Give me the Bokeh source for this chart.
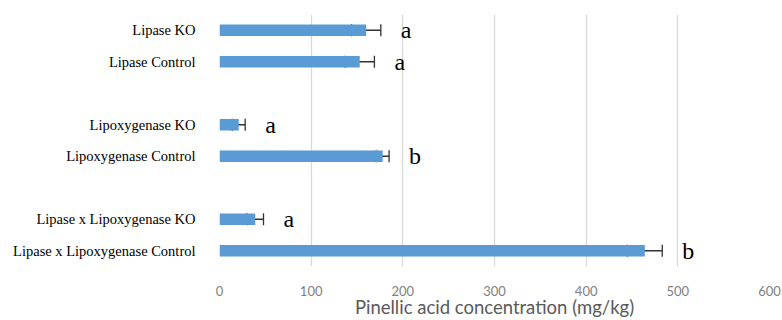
from bokeh.plotting import figure
from bokeh.models import Range1d, FixedTicker, ColumnDataSource, Whisker, TeeHead
from bokeh.embed import file_html
from bokeh.resources import INLINE

# Pinellic acid concentration by treatment (mg/kg)
groups = ["Lipase", "Lipoxygenase", "Lipase x Lipoxygenase"]
treatments = ["KO", "Control"]
means = [160, 153, 21, 178, 39, 464]
errors = [16, 16, 7, 7, 9, 19]
letters = ["a", "a", "a", "b", "a", "b"]
x_ticks = [0, 100, 200, 300, 400, 500, 600]

# Each group takes two rows followed by an empty spacer row
labels, ypos = [], []
for gi, g in enumerate(groups):
    for ti, t in enumerate(treatments):
        labels.append(f"{g} {t}")
        ypos.append(gi * 3 + ti)

src = ColumnDataSource(dict(
    y=ypos, mean=means,
    lower=[m - e for m, e in zip(means, errors)],
    upper=[m + e for m, e in zip(means, errors)],
    letter=letters,
))

n_rows = len(groups) * 3 - 1
p = figure(width=782, height=320,
           x_range=Range1d(0, 600), y_range=Range1d(n_rows - 0.5, -0.5),
           output_backend="svg", toolbar_location=None,
           min_border_left=219, min_border_right=13,
           min_border_top=14, min_border_bottom=50)
p.outline_line_color = None
p.background_fill_color = "white"
p.border_fill_color = "white"

p.hbar(y="y", left=0, right="mean", height=0.36, source=src,
       fill_color="#5b9bd5", line_color=None)

p.add_layout(Whisker(source=src, base="y", lower="lower", upper="upper",
                     dimension="width", line_color="#333333", line_width=1.3,
                     lower_head=TeeHead(size=12, line_color="#333333", line_width=1.3),
                     upper_head=TeeHead(size=12, line_color="#333333", line_width=1.3)))

p.text(x="upper", y="y", text="letter", source=src, x_offset=20,
       text_font="Liberation Serif", text_font_size="24px",
       text_align="left", text_baseline="middle", text_color="black")

# x axis: Excel-style grey ticks and title, no axis line
p.xaxis.ticker = FixedTicker(ticks=x_ticks)
p.xaxis.axis_line_color = None
p.xaxis.major_tick_line_color = None
p.xaxis.minor_tick_line_color = None
p.xaxis.major_tick_out = 0
p.xaxis.major_tick_in = 0
p.xaxis.minor_tick_out = 0
p.xaxis.major_label_text_font = "Lato"
p.xaxis.major_label_text_font_size = "13px"
p.xaxis.major_label_text_color = "#7f7f7f"
p.xaxis.major_label_standoff = 19
p.xaxis.axis_label = "Pinellic acid concentration (mg/kg)"
p.xaxis.axis_label_text_font = "Lato"
p.xaxis.axis_label_text_font_style = "normal"
p.xaxis.axis_label_text_font_size = "18.5px"
p.xaxis.axis_label_text_line_height = 0.8
p.xaxis.axis_label_text_color = "#595959"
p.xaxis.axis_label_standoff = -3

# y axis: treatment names only
p.yaxis.ticker = FixedTicker(ticks=ypos)
p.yaxis.major_label_overrides = {y: l for y, l in zip(ypos, labels)}
p.yaxis.axis_line_color = None
p.yaxis.major_tick_line_color = None
p.yaxis.minor_tick_line_color = None
p.yaxis.major_tick_out = 0
p.yaxis.major_tick_in = 0
p.yaxis.minor_tick_out = 0
p.yaxis.major_label_text_font = "Liberation Serif"
p.yaxis.major_label_text_font_size = "14.5px"
p.yaxis.major_label_text_color = "black"
p.yaxis.major_label_standoff = 24

p.xgrid.grid_line_color = "#d9d9d9"
p.xgrid.grid_line_width = 1.3
p.ygrid.grid_line_color = None

open("out.html", "w").write(file_html(p, INLINE))
